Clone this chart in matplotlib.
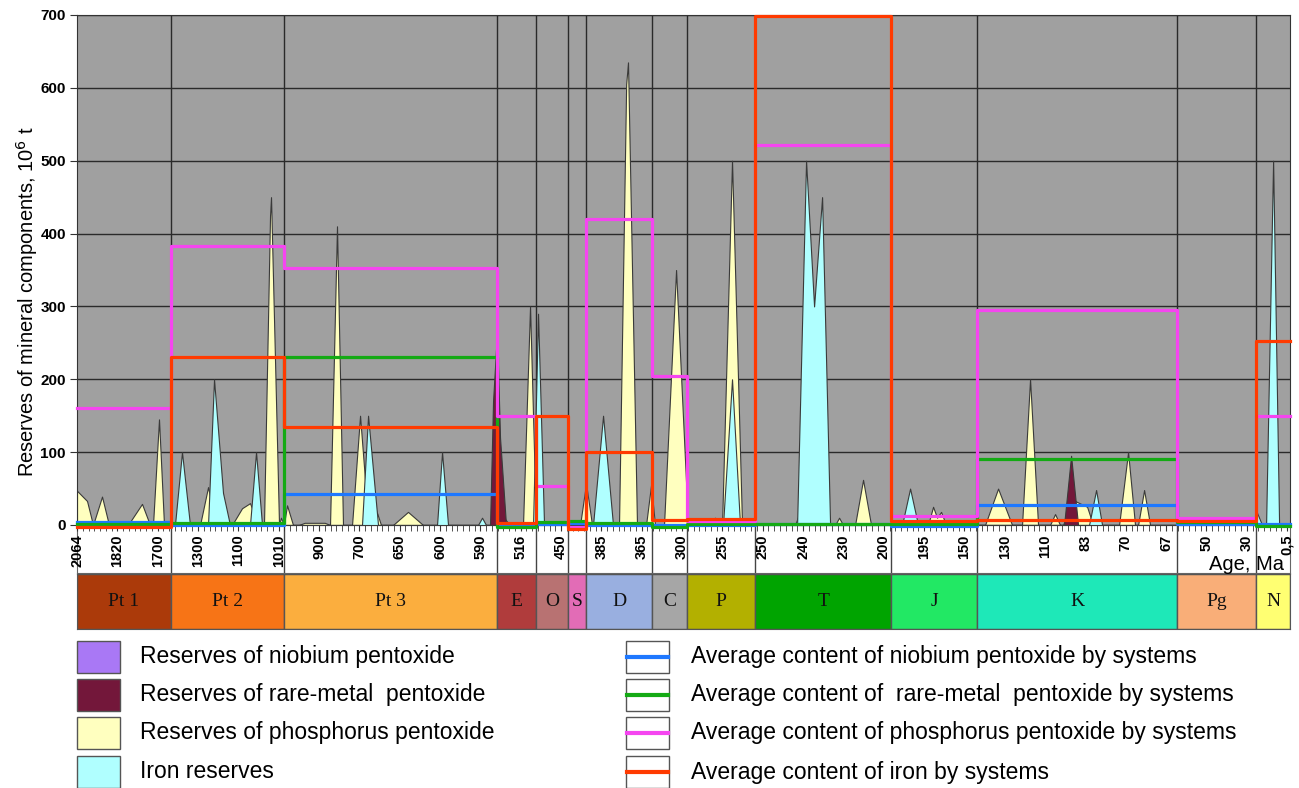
import numpy as np
import matplotlib
matplotlib.use("Agg")
import matplotlib.pyplot as plt
from matplotlib.patches import Rectangle

plt.rcParams['font.family'] = ['Liberation Sans', 'DejaVu Sans']

# --- geological systems along the sample axis (category units) ---
SYSTEMS = ['Pt 1', 'Pt 2', 'Pt 3', 'E', 'O', 'S', 'D', 'C', 'P', 'T', 'J', 'K', 'Pg', 'N']
SYSTEM_COLORS = ['#ab3a0a', '#f77416', '#fbae3e', '#b03c3c', '#b87272', '#e26cb6',
                 '#99afe0', '#a6a6a6', '#b3b000', '#00a400', '#22e864', '#1ee8b8',
                 '#f9ae78', '#ffff72']
BOUNDS = [0, 16.3, 35.9, 72.9, 79.7, 85.2, 88.3, 99.8, 105.9, 117.7,
          141.3, 156.2, 190.9, 204.6, 210.5]

AGE_LABELS = ['2064', '1820', '1700', '1300', '1100', '1010', '900', '700', '650',
              '600', '590', '516', '450', '385', '365', '300', '255', '250', '240',
              '230', '200', '195', '150', '130', '110', '83', '70', '67', '50', '30',
              '0,5']
N_SAMPLES = 211

# --- reserves by sample (10^6 t) ---
PHOS_X = [0, 1.74, 2.78, 4.34, 5.55, 8.85, 11.28, 12.67, 13.19, 14.23, 15.10,
          21.35, 22.74, 24.12, 26.90, 28.64, 30.02, 31.5, 32.45, 33.5, 33.67, 35.06, 35.4, 35.9,
          36.45, 37.49, 38.5, 39.5, 43.0, 43.91, 45.12, 46.16, 47.73, 49.12, 50.0, 51.72, 52.76, 54.84, 57.44, 60.05,
          73.8, 74.28, 75.15, 77.40, 78.62, 79.66,
          87.30, 88.34, 89.38,
          94.06, 95.3, 95.62, 97.18, 98.75, 99.62, 100.31,
          101.87, 103.96, 106.04,
          109.86, 110.72, 111.59, 111.94, 113.67, 115.41,
          124.61, 125.30, 125.82, 131.56, 132.25, 132.94, 135.02, 136.41, 137.80,
          147.69, 148.56, 149.25, 149.95, 150.81,
          157.58, 159.84, 162.27, 164.0, 165.39, 166.78, 168.86, 169.73, 170.6, 171.12, 172.68, 175.29, 176.33, 180.84, 182.40, 183.61, 184.14, 185.18, 186.22, 210.5]
PHOS_Y = [47, 33, 0, 39, 0, 0, 29, 0, 0, 145, 0,
          0, 52, 0, 0, 23, 30, 0, 0, 425, 450, 0, 10, 0,
          27, 0, 0, 3, 3, 0, 410, 0, 0, 150, 60, 25, 0, 0, 18, 0,
          0, 8, 0, 0, 300, 0,
          0, 57, 0,
          0, 605, 635, 0, 0, 55, 0,
          0, 350, 0,
          0, 10, 0, 0, 500, 0,
          0, 15, 0, 0, 10, 0, 0, 62, 0,
          0, 25, 10, 18, 0,
          0, 50, 0, 0, 200, 0, 0, 15, 0, 0, 35, 25, 0, 0, 100, 0, 0, 48, 0, 0]

IRON_X = [0, 17.0, 18.22, 19.61, 22.74, 23.78, 25.34, 26.55, 30.02, 31.07, 32.11,
          49.46, 50.51, 52.24, 62.48, 63.35, 64.39, 69.59, 70.29, 70.98,
          79.14, 80.01, 81.05, 89.55, 91.29, 93.02,
          112.11, 113.67, 115.06, 124.96, 126.52, 127.91, 129.30, 130.69,
          143.18, 144.57, 145.96, 175.63, 176.85, 177.89,
          204.2, 204.61, 205.66, 206.35, 207.57, 208.61, 210.5]
IRON_Y = [0, 0, 100, 0, 0, 200, 44, 0, 0, 100, 0,
          0, 150, 0, 0, 100, 0, 0, 10, 0,
          0, 290, 0, 0, 150, 0,
          0, 200, 0, 0, 500, 300, 450, 0,
          0, 50, 0, 0, 48, 0,
          0, 20, 0, 0, 500, 0, 0]

RARE_X = [71.68, 72.2, 72.89, 73.41, 74.45, 171.29, 172.51, 173.72]
RARE_Y = [0, 170, 265, 120, 0, 0, 95, 0]

# --- average content by system ---
NB_AVG = [4, 0, 42, 1, 2, 3, 0, 0, 0, 1, -2, 27, 1, 1]
RM_AVG = [1, 3, 230, -3, 4, 5, 3, -3, 2, 2, 2, 90, 4, -2]
PH_AVG = [160, 383, 353, 150, 53, -3, 420, 205, 5, 522, 12, 295, 10, 150]
FE_AVG = [-3, 230, 135, 3, 150, -6, 100, 7, 8, 698, 5, 7, 6, 253]

C_NB, C_RM, C_PH, C_FE = '#1e78ff', '#14aa14', '#f545f0', '#ff3a00'
F_NB, F_RM, F_PH, F_FE = '#a978f5', '#73173a', '#ffffbf', '#b0ffff'
EDGE = '#3a3a3a'


def step_xy(values):
    xs, ys = [], []
    for i, v in enumerate(values):
        xs += [BOUNDS[i], BOUNDS[i + 1]]
        ys += [v, v]
    return xs, ys


W_PX, H_PX = 1299, 788
fig = plt.figure(figsize=(W_PX / 100, H_PX / 100), dpi=100)
L = 77 / W_PX
W = (1290 - 77) / W_PX
XMAX = BOUNDS[-1]

# white band under the axis that holds the age labels
ax_band = fig.add_axes([L, 1 - 573 / H_PX, W, 48 / H_PX])
ax_band.set_xlim(0, XMAX)
ax_band.set_ylim(0, 1)
ax_band.vlines(BOUNDS[1:-1], 0, 1, color='#444444', lw=1)
ax_band.set_xticks([])
ax_band.set_yticks([])
for s in ax_band.spines.values():
    s.set_color('#666666')

# stratigraphic column
ax_per = fig.add_axes([L, 1 - 629 / H_PX, W, 55 / H_PX])
ax_per.set_xlim(0, XMAX)
ax_per.set_ylim(0, 1)
for i, name in enumerate(SYSTEMS):
    ax_per.axvspan(BOUNDS[i], BOUNDS[i + 1], facecolor=SYSTEM_COLORS[i],
                   edgecolor='#555555', lw=1)
    ax_per.text((BOUNDS[i] + BOUNDS[i + 1]) / 2, 0.5, name, ha='center', va='center',
                fontsize=14, family='Liberation Serif', color='#111111')
ax_per.set_xticks([])
ax_per.set_yticks([])
for s in ax_per.spines.values():
    s.set_color('#555555')

# main chart
ax = fig.add_axes([L, 1 - 525 / H_PX, W, 510 / H_PX])
ax.set_facecolor('#a0a0a0')
ax.set_xlim(0, XMAX)
ax.set_ylim(0, 700)
ax.set_axisbelow(True)
ax.grid(axis='y', color='#2a2a2a', lw=1)
ax.vlines(BOUNDS[1:-1], 0, 700, color='#2a2a2a', lw=1, zorder=1)

ax.fill_between(PHOS_X, PHOS_Y, 0, facecolor=F_PH, edgecolor=EDGE, lw=0.8, zorder=2)
ax.fill_between(IRON_X, IRON_Y, 0, facecolor=F_FE, edgecolor=EDGE, lw=0.8, zorder=3)
ax.fill_between(RARE_X, RARE_Y, 0, facecolor=F_RM, edgecolor=EDGE, lw=0.8, zorder=4)

for vals, col in [(NB_AVG, C_NB), (RM_AVG, C_RM), (PH_AVG, C_PH), (FE_AVG, C_FE)]:
    xs, ys = step_xy(vals)
    ax.plot(xs, ys, color=col, lw=2.3, zorder=5, clip_on=False)

ax.set_yticks(np.arange(0, 701, 100))
ax.tick_params(axis='y', length=5, color='#333333', labelsize=11, pad=3)
for lbl in ax.get_yticklabels():
    lbl.set_fontweight('bold')

ax.set_xticks(np.arange(0, N_SAMPLES, 7))
ax.set_xticklabels(AGE_LABELS, rotation=90, fontsize=10.5, fontweight='bold')
ax.set_xticks(np.arange(N_SAMPLES), minor=True)
ax.tick_params(axis='x', which='both', direction='out', length=4, color='#333333', pad=3)
for s in ax.spines.values():
    s.set_color('#333333')

fig.text(27 / W_PX, 1 - 302 / H_PX, 'Reserves of mineral components, 10$^6$ t',
         rotation=90, ha='center', va='center', fontsize=14.5)
fig.text(1284 / W_PX, 1 - 570 / H_PX, 'Age, Ma', ha='right', va='baseline', fontsize=14.5)

# legend drawn in pixel space
ax_leg = fig.add_axes([0, 0, 1, 1])
ax_leg.set_xlim(0, W_PX)
ax_leg.set_ylim(H_PX, 0)
ax_leg.axis('off')
rows = [657, 695, 733, 772]
left_items = [(F_NB, 'Reserves of niobium pentoxide'),
              (F_RM, 'Reserves of rare-metal  pentoxide'),
              (F_PH, 'Reserves of phosphorus pentoxide'),
              (F_FE, 'Iron reserves')]
right_items = [(C_NB, 'Average content of niobium pentoxide by systems'),
               (C_RM, 'Average content of  rare-metal  pentoxide by systems'),
               (C_PH, 'Average content of phosphorus pentoxide by systems'),
               (C_FE, 'Average content of iron by systems')]
for yc, (col, txt) in zip(rows, left_items):
    ax_leg.add_patch(Rectangle((77, yc - 16), 43, 32, facecolor=col, edgecolor='#555555', lw=1))
    ax_leg.text(140, yc, txt, va='center', ha='left', fontsize=16.5)
for yc, (col, txt) in zip(rows, right_items):
    ax_leg.add_patch(Rectangle((626, yc - 16), 43, 32, facecolor='white', edgecolor='#555555', lw=1))
    ax_leg.plot([627, 668], [yc, yc], color=col, lw=3)
    ax_leg.text(691, yc, txt, va='center', ha='left', fontsize=16.5)

fig.savefig('out.png', dpi=100)
